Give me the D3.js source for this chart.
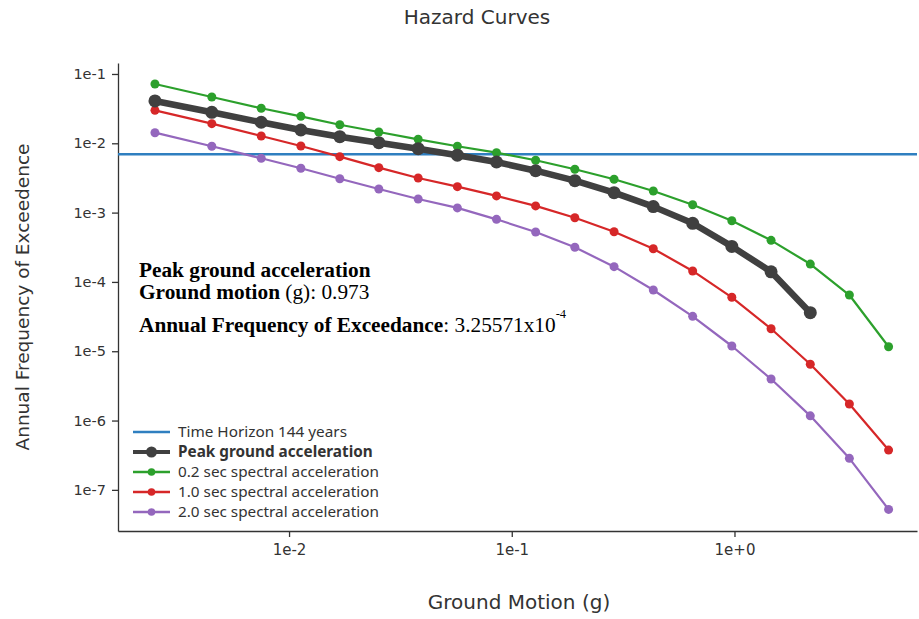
<!DOCTYPE html>
<html>
<head>
<meta charset="utf-8">
<script src="https://cdn.jsdelivr.net/npm/d3@7"></script>
<style>
  html, body { margin: 0; padding: 0; background: #fff; }
  svg { display: block; }
</style>
</head>
<body>
<svg id="chart" width="919" height="619"></svg>
<script>
// Ground motion levels (g) shared by every curve
const groundMotion = [0.0025, 0.0045, 0.0075, 0.0113, 0.0169, 0.0253, 0.038, 0.057, 0.0854,
  0.128, 0.192, 0.288, 0.432, 0.649, 0.973, 1.46, 2.19, 3.28, 4.92];

// Annual frequency of exceedance per spectral period
const pga = [0.0408, 0.0280, 0.0201, 0.01556, 0.01245, 0.0102, 0.00836, 0.00673, 0.00537,
  0.00402, 0.00289, 0.00194, 0.00122, 0.000701, 0.000325571, 0.000140, 0.0000360];
const sa02 = [0.0718, 0.0466, 0.0320, 0.0245, 0.01854, 0.01456, 0.01142, 0.00906, 0.00732,
  0.00569, 0.00422, 0.00303, 0.00205, 0.00130, 0.000764, 0.000398, 0.000181, 0.0000647, 0.0000116];
const sa10 = [0.0299, 0.0192, 0.01274, 0.00914, 0.00641, 0.00445, 0.00316, 0.00237, 0.00174,
  0.00125, 0.000843, 0.000530, 0.000301, 0.000144, 0.0000600, 0.0000211, 0.00000648, 0.00000173, 0.000000375];
const sa20 = [0.01422, 0.00906, 0.00608, 0.00436, 0.00308, 0.00219, 0.00157, 0.00117, 0.000800,
  0.000525, 0.000316, 0.000166, 0.0000764, 0.0000319, 0.0000119, 0.00000397, 0.00000117, 0.000000285, 0.0000000523];

const timeHorizonYears = 144;
const xTicks = [1e-2, 1e-1, 1e0];
const yTicks = [1e-7, 1e-6, 1e-5, 1e-4, 1e-3, 1e-2, 1e-1];
const highlightIndex = 14; // PGA point described in the annotation

const series = [
  { name: "0.2 sec spectral acceleration", values: sa02, color: "#2ca02c", width: 2.2, r: 4.5 },
  { name: "1.0 sec spectral acceleration", values: sa10, color: "#d62728", width: 2.2, r: 4.5 },
  { name: "2.0 sec spectral acceleration", values: sa20, color: "#9467bd", width: 2.2, r: 4.5 },
  { name: "Peak ground acceleration", values: pga, color: "#404040", width: 6.5, r: 6.5, bold: true }
];

const svg = d3.select("#chart");
const plotLeft = 118, plotRight = 917, plotTop = 63, plotBottom = 531;

const x = d3.scaleLog().domain([0.001706, 6.6]).range([plotLeft, plotRight]);
const y = d3.scaleLog().domain([2.55e-8, 0.144]).range([plotBottom, plotTop]);

const fmt = d3.format(".0e");

// Title
svg.append("text")
  .attr("x", 477).attr("y", 24)
  .attr("text-anchor", "middle")
  .style("font-family", "DejaVu Sans")
  .style("font-size", "20px")
  .style("fill", "#333")
  .text("Hazard Curves");

// Axes
const xAxis = svg.append("g")
  .attr("transform", `translate(0,${plotBottom})`)
  .call(d3.axisBottom(x).tickValues(xTicks).tickFormat(fmt).tickSizeInner(6).tickSizeOuter(0));
xAxis.selectAll("text")
  .style("font-family", "DejaVu Sans").style("font-size", "15px").style("fill", "#333")
  .attr("dy", "1.0em");

const yAxis = svg.append("g")
  .attr("transform", `translate(${plotLeft},0)`)
  .call(d3.axisLeft(y).tickValues(yTicks).tickFormat(fmt).tickSizeInner(6).tickSizeOuter(0));
yAxis.selectAll("text")
  .style("font-family", "DejaVu Sans").style("font-size", "14.5px").style("fill", "#333")
  .attr("x", -12);

svg.selectAll(".domain").attr("stroke", "#333").attr("stroke-width", 1.3);
svg.selectAll(".tick line").attr("stroke", "#333").attr("stroke-width", 1.3);

// Axis titles
svg.append("text")
  .attr("transform", `translate(29,297) rotate(-90)`)
  .attr("text-anchor", "middle")
  .style("font-family", "DejaVu Sans")
  .style("font-size", "18.5px")
  .style("fill", "#333")
  .text("Annual Frequency of Exceedence");

svg.append("text")
  .attr("x", 519).attr("y", 609)
  .attr("text-anchor", "middle")
  .style("font-family", "DejaVu Sans")
  .style("font-size", "20px")
  .style("fill", "#333")
  .text("Ground Motion (g)");

// Time horizon rate line
const horizonRate = 1 / timeHorizonYears;
svg.append("line")
  .attr("x1", plotLeft).attr("x2", plotRight)
  .attr("y1", y(horizonRate)).attr("y2", y(horizonRate))
  .attr("stroke", "#2f7fc0").attr("stroke-width", 2.6);

// Curves
const line = d3.line()
  .x((d, i) => x(groundMotion[i]))
  .y(d => y(d));

series.forEach(s => {
  const g = svg.append("g");
  g.append("path")
    .datum(s.values)
    .attr("d", line)
    .attr("fill", "none")
    .attr("stroke", s.color)
    .attr("stroke-width", s.width)
    .attr("stroke-linejoin", "round");
  g.selectAll("circle")
    .data(s.values)
    .join("circle")
    .attr("cx", (d, i) => x(groundMotion[i]))
    .attr("cy", d => y(d))
    .attr("r", s.r)
    .attr("fill", s.color);
});

// Annotation for the selected PGA point
const ann = svg.append("g").style("font-family", "Liberation Serif").style("font-size", "21.3px").style("fill", "#000");
ann.append("text").attr("x", 139).attr("y", 277)
  .style("font-weight", "bold").text("Peak ground acceleration");
const t2 = ann.append("text").attr("x", 139).attr("y", 299);
t2.append("tspan").style("font-weight", "bold").text("Ground motion");
t2.append("tspan").text(` (g): ${groundMotion[highlightIndex]}`);

const afe = pga[highlightIndex];
const expo = Math.floor(Math.log10(afe));
const mant = +(afe / Math.pow(10, expo)).toFixed(5);
const t3 = ann.append("text").attr("x", 139).attr("y", 332);
t3.append("tspan").style("font-weight", "bold").text("Annual Frequency of Exceedance");
t3.append("tspan").text(`: ${mant}x10`);
t3.append("tspan").attr("dy", -14).style("font-size", "12.5px").text(`${expo}`);

// Legend
const legendItems = [
  { name: `Time Horizon ${timeHorizonYears} years`, color: "#2f7fc0", width: 2.4, r: 0 },
  { name: "Peak ground acceleration", color: "#404040", width: 4, r: 5.5, bold: true },
  { name: "0.2 sec spectral acceleration", color: "#2ca02c", width: 2.6, r: 3.8 },
  { name: "1.0 sec spectral acceleration", color: "#d62728", width: 2.6, r: 3.8 },
  { name: "2.0 sec spectral acceleration", color: "#9467bd", width: 2.6, r: 3.8 }
];
const legend = svg.append("g").attr("transform", "translate(133,432)");
legendItems.forEach((item, i) => {
  const row = legend.append("g").attr("transform", `translate(0,${i * 20})`);
  row.append("line").attr("x1", 0).attr("x2", 37).attr("y1", 0).attr("y2", 0)
    .attr("stroke", item.color).attr("stroke-width", item.width);
  if (item.r) row.append("circle").attr("cx", 18.5).attr("cy", 0).attr("r", item.r).attr("fill", item.color);
  row.append("text").attr("x", 45).attr("y", 0).attr("dy", "0.35em")
    .style("font-family", "Noto Sans").style("font-size", "15.3px")
    .style("font-weight", item.bold ? "bold" : "normal")
    .style("fill", "#333")
    .text(item.name);
});
</script>
</body>
</html>
